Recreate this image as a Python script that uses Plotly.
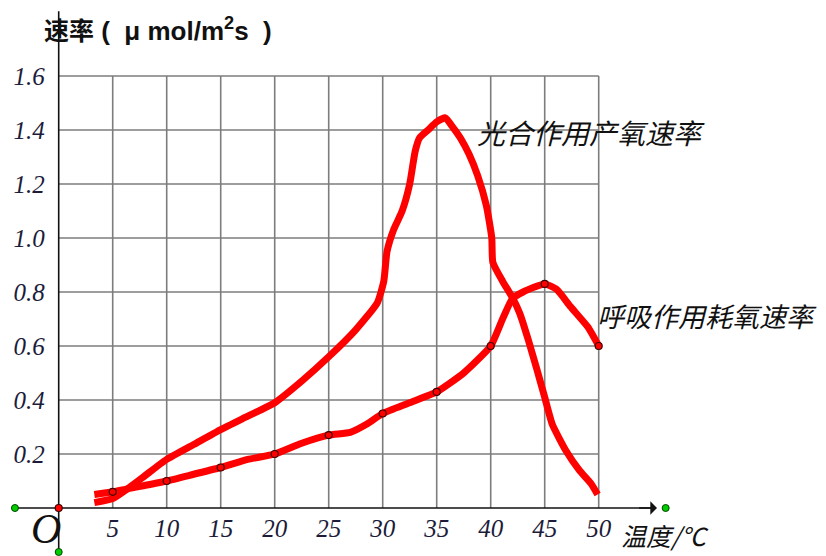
import plotly.graph_objects as go

# ---- data ----
photo_temp = [3.3, 5, 6.5, 8, 10, 12.5, 15, 17.5, 20, 22.5, 25, 27.5, 29.5, 30.1, 30.4,
              31, 31.8, 32.5, 33, 33.4, 34.2, 35, 35.8, 36.5, 37.2, 38, 38.8, 39.6,
              40.1, 40.2, 41.1, 42, 42.7, 43.5, 44.3, 45, 45.7, 47, 48.2, 49.3, 49.9]
photo_rate = [0.02, 0.035, 0.075, 0.12, 0.18, 0.235, 0.29, 0.34, 0.39, 0.47, 0.56, 0.66,
              0.76, 0.84, 0.95, 1.03, 1.10, 1.20, 1.32, 1.37, 1.40, 1.43, 1.445, 1.41,
              1.37, 1.31, 1.23, 1.12, 1.00, 0.91, 0.84, 0.78, 0.72, 0.62, 0.51, 0.41,
              0.31, 0.21, 0.14, 0.09, 0.05]

resp_temp = [3.3, 5, 7.5, 10, 12.5, 15, 17.5, 20, 22.5, 25, 27, 28.5, 30, 32.5, 35, 37.5,
             40, 41.1, 42, 43, 45, 46.1, 47.4, 49, 50]
resp_rate = [0.05, 0.06, 0.08, 0.10, 0.125, 0.15, 0.18, 0.20, 0.24, 0.27, 0.28, 0.31,
             0.35, 0.39, 0.43, 0.50, 0.60, 0.70, 0.775, 0.80, 0.83, 0.81, 0.745, 0.67, 0.60]

marker_temps = [5, 10, 15, 20, 25, 30, 35, 40, 45, 50]

x_ticks = [5, 10, 15, 20, 25, 30, 35, 40, 45, 50]
x_tick_text = ["5", "10", "15", "20", "25", "30", "35", "40", "45", "50"]
y_ticks = [0.2, 0.4, 0.6, 0.8, 1.0, 1.2, 1.4, 1.6]
y_tick_text = ["0.2", "0.4", "0.6", "0.8", "1.0", "1.2", "1.4", "1.6"]

title_cjk = "速率"
title_unit = "&nbsp;(&nbsp;&nbsp;μ mol/m<sup>2</sup>s&nbsp;&nbsp;)"
x_label = "温度/℃"
photo_label = "光合作用产氧速率"
resp_label = "呼吸作用耗氧速率"

# ---- geometry (page body adds an 8px offset, compensated here) ----
W, H = 826, 556
PX_PER_X = 10.8
PX_PER_Y = 270.0
X0_PX = 50.7
Y0_PX = 500.0
x_range = [-X0_PX / PX_PER_X, (W - X0_PX) / PX_PER_X]
y_range = [-(H - Y0_PX) / PX_PER_Y, Y0_PX / PX_PER_Y]
X_MAX, Y_MAX = 50, 1.6

RED = "#ff0000"
GRID = "#7d7d7d"
TICK_COLOR = "#1c1c3a"

fig = go.Figure()

shapes = []
for xv in x_ticks:
    shapes.append(dict(type="line", xref="x", yref="y", x0=xv, x1=xv, y0=0, y1=Y_MAX,
                       line=dict(color=GRID, width=1.6), layer="below"))
for yv in y_ticks:
    shapes.append(dict(type="line", xref="x", yref="y", x0=0, x1=X_MAX, y0=yv, y1=yv,
                       line=dict(color=GRID, width=1.6), layer="below"))
# y axis line (extends above and below)
shapes.append(dict(type="line", xref="x", yref="y", x0=0, x1=0, y0=-0.163, y1=1.84,
                   line=dict(color="#111111", width=1.6), layer="below"))
# x axis line
shapes.append(dict(type="line", xref="x", yref="y", x0=-4.05, x1=55.0, y0=0, y1=0,
                   line=dict(color="#111111", width=1.6), layer="below"))
fig.update_layout(shapes=shapes)

# curves
fig.add_trace(go.Scatter(x=photo_temp, y=photo_rate, mode="lines",
                         line=dict(color=RED, width=7, shape="spline", smoothing=0.5),
                         hoverinfo="skip", showlegend=False))
fig.add_trace(go.Scatter(x=resp_temp, y=resp_rate, mode="lines",
                         line=dict(color=RED, width=7, shape="spline", smoothing=0.5),
                         hoverinfo="skip", showlegend=False))
resp_lookup = dict(zip(resp_temp, resp_rate))
fig.add_trace(go.Scatter(x=marker_temps, y=[resp_lookup[t] for t in marker_temps],
                         mode="markers",
                         marker=dict(color=RED, size=7, line=dict(color="#400000", width=1.2)),
                         hoverinfo="skip", showlegend=False))
# origin dot and green end points
fig.add_trace(go.Scatter(x=[0], y=[0], mode="markers",
                         marker=dict(color=RED, size=7, line=dict(color="#400000", width=1.2)),
                         hoverinfo="skip", showlegend=False))
fig.add_trace(go.Scatter(x=[-4.05, 56.2, 0], y=[0, 0, -0.163], mode="markers",
                         marker=dict(color="#00cc00", size=7, line=dict(color="#004400", width=1)),
                         hoverinfo="skip", showlegend=False, cliponaxis=False))

annotations = [
    # arrow head at end of x axis
    dict(x=55.4, y=0, ax=53.6, ay=0, xref="x", yref="y", axref="x", ayref="y",
         showarrow=True, arrowhead=1, arrowsize=1.6, arrowwidth=1.4, arrowcolor="#111111", text=""),
    dict(x=0, y=y_range[1], xref="x", yref="y",
         text=title_cjk + "<span style='font-size:26px'>" + title_unit + "</span>",
         showarrow=False, xanchor="left", yanchor="top", xshift=-17, yshift=-3,
         font=dict(family="Liberation Sans, Noto Sans CJK SC", size=25, color="#111111", weight="bold")),
    dict(x=X_MAX, y=0, xref="x", yref="y", text=x_label, showarrow=False,
         xanchor="left", yanchor="middle", xshift=20, yshift=-27,
         font=dict(family="Noto Sans CJK SC", size=25, color="#111111", style="italic")),
    dict(x=38.5, y=1.4, xref="x", yref="y", text=photo_label, showarrow=False,
         xanchor="left", yanchor="middle", yshift=-2,
         font=dict(family="Noto Sans CJK SC", size=28, color="#111111", style="italic")),
    dict(x=X_MAX, y=0.7, xref="x", yref="y", text=resp_label, showarrow=False,
         xanchor="left", yanchor="middle", yshift=4, xshift=-4,
         font=dict(family="Noto Sans CJK SC", size=27, color="#111111", style="italic")),
    dict(x=0, y=0, xref="x", yref="y", text="O", showarrow=False,
         xanchor="right", yanchor="top", xshift=4, yshift=4,
         font=dict(family="Liberation Serif", size=42, color="#111111", style="italic")),
]
fig.update_layout(annotations=annotations)

fig.update_layout(
    width=W, height=H, autosize=False,
    margin=dict(l=0, r=0, t=0, b=0, pad=0),
    plot_bgcolor="white", paper_bgcolor="white",
    xaxis=dict(range=x_range, showgrid=False, zeroline=False, showline=False,
               tickvals=x_ticks, ticktext=x_tick_text, ticks="",
               anchor="free", position=(H - Y0_PX) / H,
               ticklabelstandoff=3,
               tickfont=dict(family="Liberation Serif", size=25, color=TICK_COLOR, style="italic"),
               fixedrange=True),
    yaxis=dict(range=y_range, showgrid=False, zeroline=False, showline=False,
               tickvals=y_ticks, ticktext=y_tick_text, ticks="",
               anchor="free", position=X0_PX / W,
               ticklabelstandoff=14,
               tickfont=dict(family="Liberation Serif", size=25, color=TICK_COLOR, style="italic"),
               fixedrange=True),
)

fig.write_html("out.html")
